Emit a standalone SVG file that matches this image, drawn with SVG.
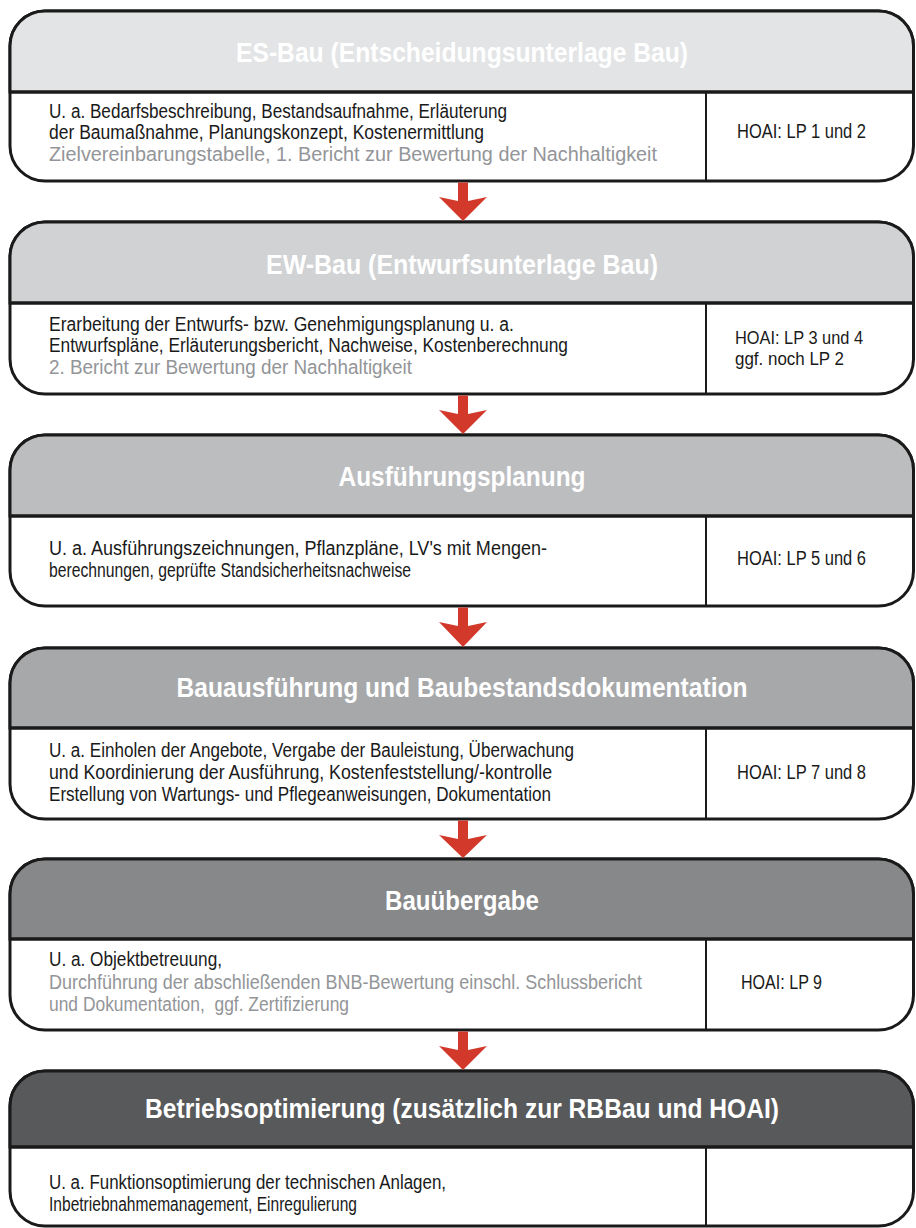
<svg xmlns="http://www.w3.org/2000/svg" width="916" height="1228" viewBox="0 0 916 1228">
<style>
.box{fill:#ffffff;stroke:#1a1a1a;stroke-width:3}
.ln{stroke:#1a1a1a;stroke-width:3;fill:none}
.vl{stroke:#1a1a1a;stroke-width:2;fill:none}
.t{font-family:"Liberation Sans Narrow","Liberation Sans",Arial,sans-serif;font-size:28px;font-weight:bold;fill:#ffffff;text-anchor:middle}
.b{font-family:"Liberation Sans Narrow","Liberation Sans",Arial,sans-serif;font-size:19.5px;fill:#1a1a1a}
.s{font-size:18px}
.g{fill:#939598}
.arr{fill:#d2392a}
</style>
<rect width="916" height="1228" fill="#ffffff"/>

<g id="node-es-bau">
<rect class="box" x="10" y="11" width="903.5" height="170" rx="35"/>
<path d="M10,92 V46 A35,35 0 0 1 45,11 H878.5 A35,35 0 0 1 913.5,46 V92 Z" fill="#e3e4e5" stroke="#1a1a1a" stroke-width="3"/>
<line class="ln" x1="10" y1="92" x2="913.5" y2="92"/>
<line class="vl" x1="706" y1="92" x2="706" y2="181"/>
<text class="t" x="462" y="62" textLength="452" lengthAdjust="spacingAndGlyphs">ES-Bau (Entscheidungsunterlage Bau)</text>
<text class="b" x="49" y="118" textLength="458" lengthAdjust="spacingAndGlyphs">U. a. Bedarfsbeschreibung, Bestandsaufnahme, Erläuterung</text>
<text class="b" x="49" y="139" textLength="435" lengthAdjust="spacingAndGlyphs">der Baumaßnahme, Planungskonzept, Kostenermittlung</text>
<text class="b g" x="49" y="161" textLength="608" lengthAdjust="spacingAndGlyphs">Zielvereinbarungstabelle, 1. Bericht zur Bewertung der Nachhaltigkeit</text>
<text class="b" x="737" y="138" textLength="129" lengthAdjust="spacingAndGlyphs">HOAI: LP 1 und 2</text>
</g>

<g id="node-ew-bau">
<rect class="box" x="10" y="222" width="903.5" height="172" rx="35"/>
<path d="M10,303 V257 A35,35 0 0 1 45,222 H878.5 A35,35 0 0 1 913.5,257 V303 Z" fill="#d1d2d4" stroke="#1a1a1a" stroke-width="3"/>
<line class="ln" x1="10" y1="303" x2="913.5" y2="303"/>
<line class="vl" x1="706" y1="303" x2="706" y2="394"/>
<text class="t" x="462" y="274" textLength="392" lengthAdjust="spacingAndGlyphs">EW-Bau (Entwurfsunterlage Bau)</text>
<text class="b" x="49" y="331" textLength="465" lengthAdjust="spacingAndGlyphs">Erarbeitung der Entwurfs- bzw. Genehmigungsplanung u. a.</text>
<text class="b" x="49" y="352" textLength="519" lengthAdjust="spacingAndGlyphs">Entwurfspläne, Erläuterungsbericht, Nachweise, Kostenberechnung</text>
<text class="b g" x="49" y="374" textLength="363" lengthAdjust="spacingAndGlyphs">2. Bericht zur Bewertung der Nachhaltigkeit</text>
<text class="b s" x="735" y="344" textLength="128" lengthAdjust="spacingAndGlyphs">HOAI: LP 3 und 4</text>
<text class="b s" x="735" y="365" textLength="109" lengthAdjust="spacingAndGlyphs">ggf. noch LP 2</text>
</g>

<g id="node-ausfuehrungsplanung">
<rect class="box" x="10" y="435" width="903.5" height="171" rx="35"/>
<path d="M10,516 V470 A35,35 0 0 1 45,435 H878.5 A35,35 0 0 1 913.5,470 V516 Z" fill="#bcbdbf" stroke="#1a1a1a" stroke-width="3"/>
<line class="ln" x1="10" y1="516" x2="913.5" y2="516"/>
<line class="vl" x1="706" y1="516" x2="706" y2="606"/>
<text class="t" x="462" y="486" textLength="247" lengthAdjust="spacingAndGlyphs">Ausführungsplanung</text>
<text class="b" x="49" y="555" textLength="498" lengthAdjust="spacingAndGlyphs">U. a. Ausführungszeichnungen, Pflanzpläne, LV's mit Mengen-</text>
<text class="b" x="49" y="577" textLength="362" lengthAdjust="spacingAndGlyphs">berechnungen, geprüfte Standsicherheitsnachweise</text>
<text class="b" x="737" y="565" textLength="129" lengthAdjust="spacingAndGlyphs">HOAI: LP 5 und 6</text>
</g>

<g id="node-bauausfuehrung">
<rect class="box" x="10" y="648" width="903.5" height="171" rx="35"/>
<path d="M10,728 V683 A35,35 0 0 1 45,648 H878.5 A35,35 0 0 1 913.5,683 V728 Z" fill="#a7a8aa" stroke="#1a1a1a" stroke-width="3"/>
<line class="ln" x1="10" y1="728" x2="913.5" y2="728"/>
<line class="vl" x1="706" y1="728" x2="706" y2="819"/>
<text class="t" x="462" y="697" textLength="571" lengthAdjust="spacingAndGlyphs">Bauausführung und Baubestandsdokumentation</text>
<text class="b" x="49" y="757" textLength="525" lengthAdjust="spacingAndGlyphs">U. a. Einholen der Angebote, Vergabe der Bauleistung, Überwachung</text>
<text class="b" x="49" y="779" textLength="503" lengthAdjust="spacingAndGlyphs">und Koordinierung der Ausführung, Kostenfeststellung/-kontrolle</text>
<text class="b" x="49" y="801" textLength="502" lengthAdjust="spacingAndGlyphs">Erstellung von Wartungs- und Pflegeanweisungen, Dokumentation</text>
<text class="b" x="737" y="779" textLength="129" lengthAdjust="spacingAndGlyphs">HOAI: LP 7 und 8</text>
</g>

<g id="node-bauuebergabe">
<rect class="box" x="10" y="859" width="903.5" height="171" rx="35"/>
<path d="M10,939 V894 A35,35 0 0 1 45,859 H878.5 A35,35 0 0 1 913.5,894 V939 Z" fill="#87888a" stroke="#1a1a1a" stroke-width="3"/>
<line class="ln" x1="10" y1="939" x2="913.5" y2="939"/>
<line class="vl" x1="706" y1="939" x2="706" y2="1030"/>
<text class="t" x="462" y="910" textLength="154" lengthAdjust="spacingAndGlyphs">Bauübergabe</text>
<text class="b" x="49" y="966" textLength="173" lengthAdjust="spacingAndGlyphs">U. a. Objektbetreuung,</text>
<text class="b g" x="49" y="989" textLength="593" lengthAdjust="spacingAndGlyphs">Durchführung der abschließenden BNB-Bewertung einschl. Schlussbericht</text>
<text class="b g" x="49" y="1011" textLength="300" lengthAdjust="spacingAndGlyphs">und Dokumentation,&#160; ggf. Zertifizierung</text>
<text class="b" x="741" y="989" textLength="81" lengthAdjust="spacingAndGlyphs">HOAI: LP 9</text>
</g>

<g id="node-betriebsoptimierung">
<rect class="box" x="10" y="1071" width="903.5" height="155" rx="35"/>
<path d="M10,1147 V1106 A35,35 0 0 1 45,1071 H878.5 A35,35 0 0 1 913.5,1106 V1147 Z" fill="#58595b" stroke="#1a1a1a" stroke-width="3"/>
<line class="ln" x1="10" y1="1147" x2="913.5" y2="1147"/>
<line class="vl" x1="706" y1="1147" x2="706" y2="1226"/>
<text class="t" x="462" y="1118" textLength="634" lengthAdjust="spacingAndGlyphs">Betriebsoptimierung (zusätzlich zur RBBau und HOAI)</text>
<text class="b" x="49" y="1189" textLength="397" lengthAdjust="spacingAndGlyphs">U. a. Funktionsoptimierung der technischen Anlagen,</text>
<text class="b" x="49" y="1211" textLength="308" lengthAdjust="spacingAndGlyphs">Inbetriebnahmemanagement, Einregulierung</text>
</g>

<g id="connectors">
<polygon class="arr" points="458,182.5 468,182.5 468,201 487,197 463,221 439,197 458,201"/>
<polygon class="arr" points="458,395.5 468,395.5 468,414 487,410 463,434 439,410 458,414"/>
<polygon class="arr" points="458,607.5 468,607.5 468,626 487,622 463,647 439,622 458,626"/>
<polygon class="arr" points="458,820.5 468,820.5 468,839 487,835 463,858 439,835 458,839"/>
<polygon class="arr" points="458,1031.5 468,1031.5 468,1050 487,1046 463,1070 439,1046 458,1050"/>
</g>
</svg>
